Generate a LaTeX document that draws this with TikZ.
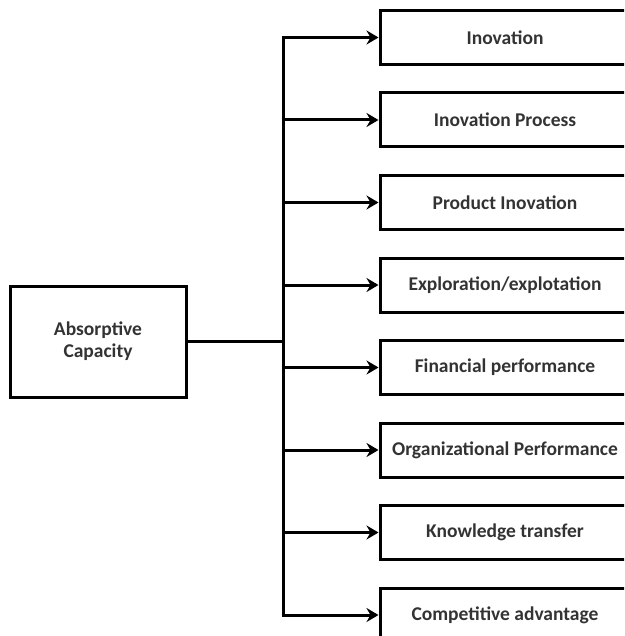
\documentclass[tikz,border=0pt]{standalone}
\usepackage{fontspec}
\setmainfont{Carlito}
\usetikzlibrary{arrows.meta}

\begin{document}
\begin{tikzpicture}[x=1pt,y=1pt,->,>={Stealth[length=12pt,width=14pt,inset=4pt]},
  line width=3pt,node distance=82.5pt,
  box/.style={draw,rectangle,-,text=black!80,inner sep=0pt,
    font=\fontsize{19.5}{22}\selectfont\bfseries},
  outcome/.style={box,minimum width=250pt,minimum height=54pt},
  source/.style={box,minimum width=176pt,minimum height=111pt,align=center}]
 \clip (0,0) rectangle (624,-636);

 \node[source]  (cap)                 at (98,-341.5) {Absorptive\\Capacity};
 \node[outcome] (b1)                  at (505,-37.5) {Inovation};
 \node[outcome] (b2) [below of=b1] {Inovation Process};
 \node[outcome] (b3) [below of=b2] {Product Inovation};
 \node[outcome] (b4) [below of=b3] {Exploration/explotation};
 \node[outcome] (b5) [below of=b4] {Financial performance};
 \node[outcome] (b6) [below of=b5] {Organizational Performance};
 \node[outcome] (b7) [below of=b6] {Knowledge transfer};
 \node[outcome] (b8) [below of=b7] {Competitive advantage};
 \coordinate (bus) at (283,-341.5);

 \draw[-] (cap) -- (bus);
 \foreach \i in {1,...,8}
   \draw (bus) |- (b\i.west);
\end{tikzpicture}
\end{document}
